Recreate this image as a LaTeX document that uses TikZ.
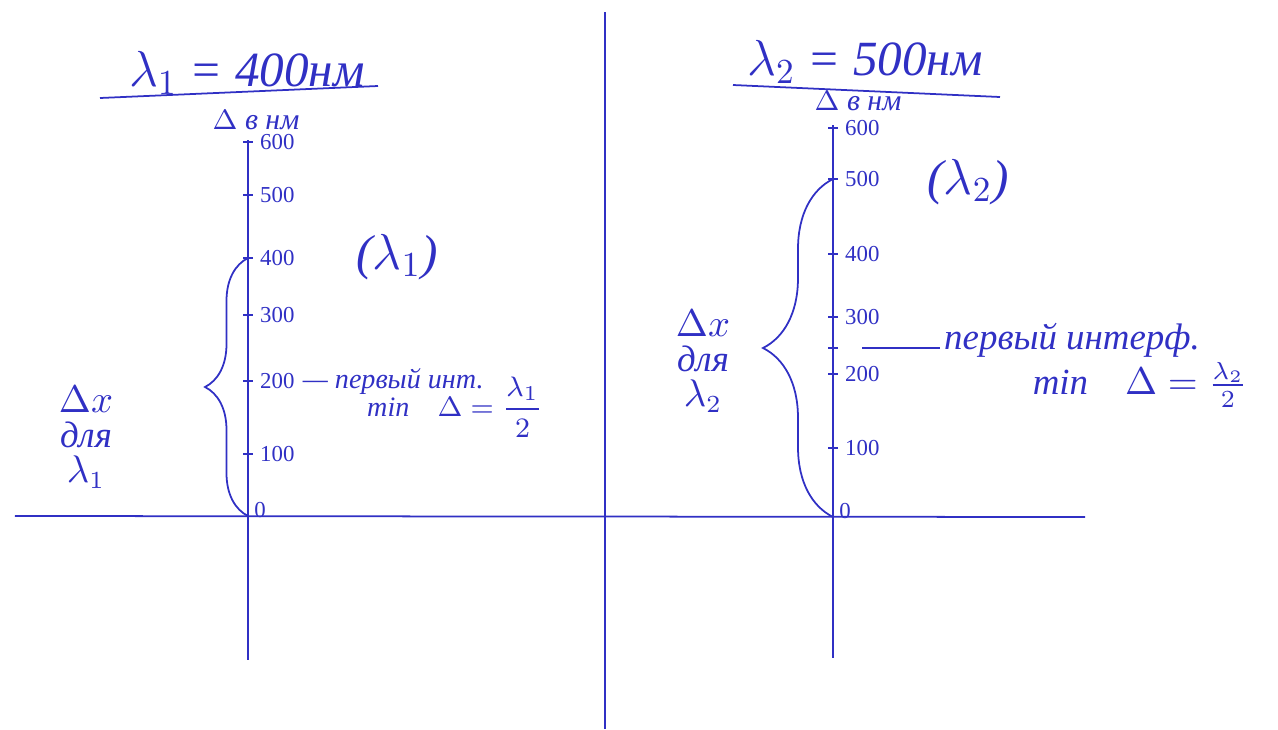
\documentclass[tikz,border=0pt]{standalone}
\usepackage{amsmath}
\usepackage{fontspec}
\setmainfont{Liberation Serif}
\usetikzlibrary{calc,positioning,decorations.pathreplacing}
\definecolor{ink}{RGB}{48,48,196}
\tikzset{
  ink line/.style={draw=ink, line width=0.5pt},
  tick lbl/.style={text=ink, font=\fontsize{6.5}{7}\selectfont, inner sep=1pt},
  title lbl/.style={text=ink, font=\fontsize{14}{16}\selectfont\itshape},
  unit lbl/.style={text=ink, font=\fontsize{8.5}{10}\selectfont\itshape},
  note lbl/.style={text=ink, font=\fontsize{8}{9}\selectfont\itshape, inner sep=1pt},
  big note/.style={text=ink, font=\fontsize{10.5}{12}\selectfont\itshape, inner sep=1pt},
  side lbl/.style={text=ink, font=\fontsize{10.5}{10}\selectfont\itshape, align=center},
  paren lbl/.style={text=ink, font=\fontsize{14}{16}\selectfont\itshape},
  brace/.style={ink line, decorate, decoration={brace, amplitude=#1}},
}
\begin{document}
\begin{tikzpicture}
\useasboundingbox (0,0) rectangle (12.78,7.29);
%% middle line and horizontal axis
\draw[ink line] (6.05,7.17) -- (6.05,0);
\draw[ink line] (0.15,2.13) -- (10.85,2.12);

%% left part: lambda_1
\node[title lbl] (titleA) at (2.47,6.56) {$\lambda_1$ = 400нм};
\draw[ink line] (1.00,6.31) -- (3.78,6.43);
\node[unit lbl] (unitA) at (2.56,6.09) {$\Delta$ в нм};
% axis
\draw[ink line] (2.48,5.89) -- (2.48,0.69);
\coordinate (a0) at (2.48,2.13);
\coordinate (a100) at (2.48,2.75);
\coordinate (a200) at (2.48,3.48);
\coordinate (a300) at (2.48,4.14);
\coordinate (a400) at (2.48,4.71);
\coordinate (a500) at (2.48,5.34);
\coordinate (a600) at (2.48,5.87);
\draw[ink line] (a100) +(-0.05,0) -- +(0.05,0);
\draw[ink line] (a200) +(-0.05,0) -- +(0.05,0);
\draw[ink line] (a300) +(-0.05,0) -- +(0.05,0);
\draw[ink line] (a400) +(-0.05,0) -- +(0.05,0);
\draw[ink line] (a500) +(-0.05,0) -- +(0.05,0);
\draw[ink line] (a600) +(-0.05,0) -- +(0.05,0);
\node[tick lbl, right=0.08 of a600] (la600) {600};
\node[tick lbl, right=0.08 of a500] (la500) {500};
\node[tick lbl, right=0.08 of a400] (la400) {400};
\node[tick lbl, right=0.08 of a300] (la300) {300};
\node[tick lbl, right=0.08 of a200] (la200) {200};
\node[tick lbl, right=0.08 of a100] (la100) {100};
\node[tick lbl] (la0) at (2.60,2.19) {0};
\node[paren lbl] (lamA) at (3.97,4.72) {($\lambda_1$)};
% first minimum
\node[note lbl, right=0pt of la200] (firstA) {— первый инт.};
\node[note lbl] (minA) at (4.55,3.22) {min\quad$\Delta=\dfrac{\lambda_1}{2}$};
% brace
\draw[brace=0.43cm] (a0) -- (a400);
\node[side lbl] (dxA) at (0.86,2.92) {$\Delta x$\\для\\$\lambda_1$};

%% right part: lambda_2
\node[title lbl] (titleB) at (8.65,6.67) {$\lambda_2$ = 500нм};
\draw[ink line] (7.33,6.44) -- (10.00,6.32);
\node[unit lbl] (unitB) at (8.58,6.28) {$\Delta$ в нм};
% axis
\draw[ink line] (8.33,6.04) -- (8.33,0.71);
\coordinate (b0) at (8.33,2.12);
\coordinate (b100) at (8.33,2.81);
\coordinate (b200) at (8.33,3.55);
\coordinate (b250) at (8.33,3.81);
\coordinate (b300) at (8.33,4.12);
\coordinate (b400) at (8.33,4.75);
\coordinate (b500) at (8.33,5.50);
\coordinate (b600) at (8.33,6.01);
\draw[ink line] (b100) +(-0.05,0) -- +(0.05,0);
\draw[ink line] (b200) +(-0.05,0) -- +(0.05,0);
\draw[ink line] (b250) +(-0.05,0) -- +(0.05,0);
\draw[ink line] (b300) +(-0.05,0) -- +(0.05,0);
\draw[ink line] (b400) +(-0.05,0) -- +(0.05,0);
\draw[ink line] (b500) +(-0.05,0) -- +(0.05,0);
\draw[ink line] (b600) +(-0.05,0) -- +(0.05,0);
\node[tick lbl, right=0.08 of b600] (lb600) {600};
\node[tick lbl, right=0.08 of b500] (lb500) {500};
\node[tick lbl, right=0.08 of b400] (lb400) {400};
\node[tick lbl, right=0.08 of b300] (lb300) {300};
\node[tick lbl, right=0.08 of b200] (lb200) {200};
\node[tick lbl, right=0.08 of b100] (lb100) {100};
\node[tick lbl] (lb0) at (8.45,2.18) {0};
\node[paren lbl] (lamB) at (9.68,5.47) {($\lambda_2$)};
% first minimum
\coordinate (lineB) at (8.62,3.81);
\node[big note, anchor=west] (firstB) at (9.40,3.89) {первый интерф.};
\draw[ink line] (lineB) -- (lineB -| firstB.west);
\node[big note] (minB) at (11.40,3.44) {min\quad$\Delta=\frac{\lambda_2}{2}$};
% brace
\draw[brace=0.70cm] (b0) -- (b500);
\node[side lbl] (dxB) at (7.03,3.68) {$\Delta x$\\для\\$\lambda_2$};
\end{tikzpicture}
\end{document}
